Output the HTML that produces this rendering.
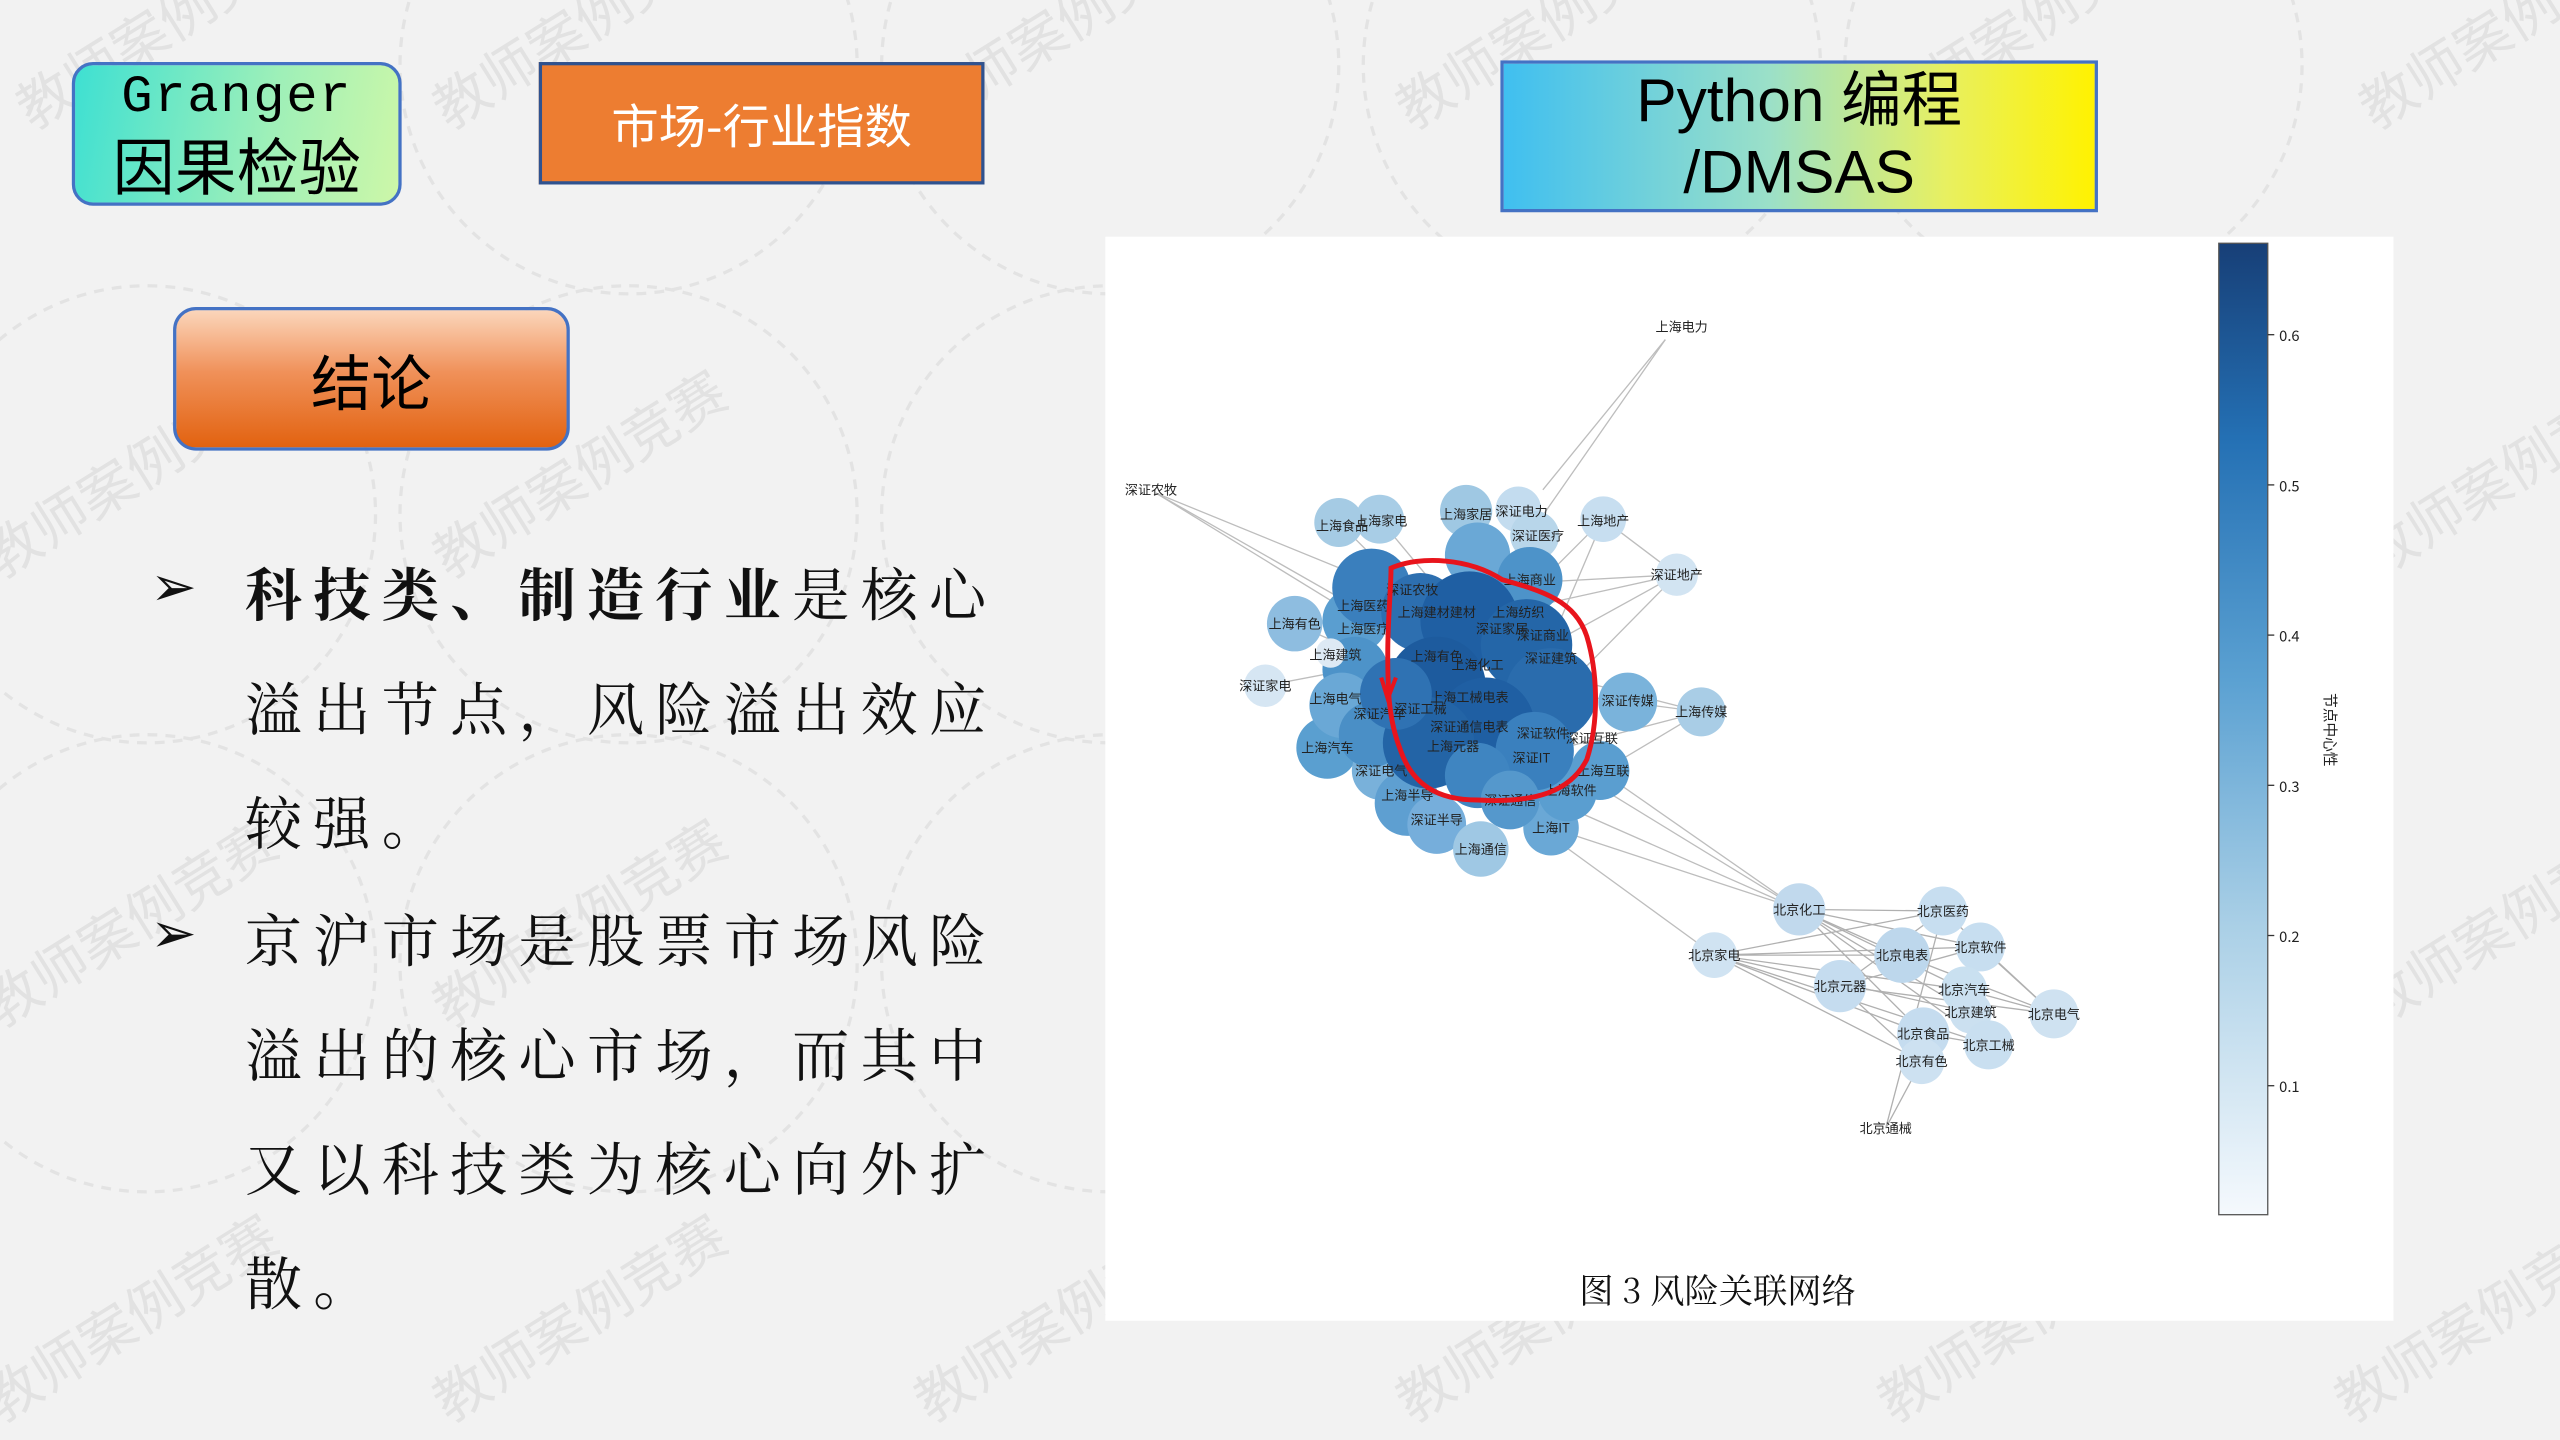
<!DOCTYPE html>
<html><head><meta charset="utf-8"><style>
html,body{margin:0;padding:0;width:2560px;height:1440px;overflow:hidden;}
body{background:#f2f2f2;position:relative;}
#s{position:absolute;left:0;top:0;width:1568px;height:881px;overflow:hidden;transform:scale(1.632653);transform-origin:0 0;background:#f2f2f2;font-family:"Liberation Sans","Noto Sans CJK SC",sans-serif;}
.abs{position:absolute;}
.box{position:absolute;box-sizing:border-box;display:flex;flex-direction:column;align-items:center;justify-content:center;text-align:center;}
.line{position:absolute;left:150px;font-size:35px;letter-spacing:6.9px;white-space:nowrap;color:#111;font-family:"Noto Serif CJK SC","Noto Sans CJK SC",serif;line-height:40px;}
.bul{position:absolute;left:92px;font-size:34px;color:#111;font-family:"DejaVu Sans",sans-serif;}
</style></head><body><div id="s">

<svg class="abs" style="left:0;top:0" width="1568" height="880" viewBox="0 0 1568 880">
<g fill="none" stroke="#e3e3e3" stroke-width="2" stroke-dasharray="6 5">
<circle cx="385" cy="40" r="140"/><circle cx="680" cy="40" r="140"/><circle cx="975" cy="40" r="140"/><circle cx="1270" cy="40" r="140"/>
<circle cx="90" cy="315" r="140"/><circle cx="385" cy="315" r="140"/><circle cx="680" cy="315" r="140"/><circle cx="975" cy="315" r="140"/><circle cx="1270" cy="315" r="140"/>
<circle cx="90" cy="590" r="140"/><circle cx="385" cy="590" r="140"/><circle cx="680" cy="590" r="140"/><circle cx="975" cy="590" r="140"/><circle cx="1270" cy="590" r="140"/>
</g>
<g fill="#e2e2e2" font-size="34" font-family="Noto Sans CJK SC,sans-serif">
<text transform="translate(20,80) rotate(-32)">教师案例竞赛</text>
<text transform="translate(275,80) rotate(-32)">教师案例竞赛</text>
<text transform="translate(570,80) rotate(-32)">教师案例竞赛</text>
<text transform="translate(865,80) rotate(-32)">教师案例竞赛</text>
<text transform="translate(1160,80) rotate(-32)">教师案例竞赛</text>
<text transform="translate(1455,80) rotate(-32)">教师案例竞赛</text>
<text transform="translate(0,355) rotate(-32)">教师案例竞赛</text>
<text transform="translate(275,355) rotate(-32)">教师案例竞赛</text>
<text transform="translate(1455,355) rotate(-32)">教师案例竞赛</text>
<text transform="translate(0,630) rotate(-32)">教师案例竞赛</text>
<text transform="translate(275,630) rotate(-32)">教师案例竞赛</text>
<text transform="translate(1455,630) rotate(-32)">教师案例竞赛</text>
<text transform="translate(0,872) rotate(-32)">教师案例竞赛</text>
<text transform="translate(275,872) rotate(-32)">教师案例竞赛</text>
<text transform="translate(570,872) rotate(-32)">教师案例竞赛</text>
<text transform="translate(865,872) rotate(-32)">教师案例竞赛</text>
<text transform="translate(1160,872) rotate(-32)">教师案例竞赛</text>
<text transform="translate(1440,872) rotate(-32)">教师案例竞赛</text>
</g>
</svg>

<div class="box" style="left:44px;top:38px;width:202px;height:88px;border:2px solid #4472c4;border-radius:13px;background:linear-gradient(100deg,#3ee0d2 0%,#9ff0b8 60%,#cdf7a8 100%);">
<div style="font-family:'Liberation Mono','DejaVu Sans Mono',monospace;font-size:32px;line-height:36px;letter-spacing:1px;">Granger</div>
<div style="font-family:'Noto Sans CJK SC',sans-serif;font-size:38px;line-height:44px;">因果检验</div></div>

<div class="box" style="left:330px;top:38px;width:273px;height:75px;border:2px solid #2f528f;background:#ed7d31;color:#fff;font-size:29px;font-family:'Noto Sans CJK SC',sans-serif;">市场-行业指数</div>

<div class="box" style="left:919px;top:37px;width:366px;height:93px;border:2px solid #4472c4;background:linear-gradient(90deg,#3fbff0 0%,#9be0c8 45%,#e8f060 75%,#fff200 100%);font-size:37px;line-height:44px;font-family:'Liberation Sans','Noto Sans CJK SC',sans-serif;">
<div>Python 编程</div><div>/DMSAS</div></div>

<div class="box" style="left:106px;top:188px;width:243px;height:88px;border:2px solid #4472c4;border-radius:14px;background:linear-gradient(180deg,#fbd6bb 0%,#f0915a 45%,#e2620f 100%);font-size:37px;font-family:'Noto Sans CJK SC',sans-serif;">结论</div>

<div class="bul" style="top:340px">➢</div>
<div class="line" style="top:343px"><b>科技类、制造行业</b>是核心</div>
<div class="line" style="top:413px">溢出节点，风险溢出效应</div>
<div class="line" style="top:483px">较强。</div>
<div class="bul" style="top:552px">➢</div>
<div class="line" style="top:555px">京沪市场是股票市场风险</div>
<div class="line" style="top:625px">溢出的核心市场，而其中</div>
<div class="line" style="top:695px">又以科技类为核心向外扩</div>
<div class="line" style="top:765px">散。</div>

<div class="abs" style="left:677px;top:145px;width:789px;height:664px;background:#fff;"></div>

<svg class="abs" style="left:677px;top:145px" width="789" height="664" viewBox="677 145 789 664" font-family="Noto Sans CJK SC,sans-serif">
<g stroke="#bdbdbd" stroke-width="0.8" fill="none">
<line x1="1020" y1="208" x2="935" y2="330"/><line x1="1020" y1="208" x2="945" y2="300"/>
<line x1="708" y1="302" x2="880" y2="400"/><line x1="708" y1="302" x2="850" y2="360"/><line x1="708" y1="302" x2="900" y2="420"/>
<line x1="1027" y1="352" x2="900" y2="380"/><line x1="1027" y1="352" x2="940" y2="400"/><line x1="1027" y1="352" x2="960" y2="420"/><line x1="1027" y1="352" x2="982" y2="318"/><line x1="1027" y1="352" x2="880" y2="360"/>
<line x1="1042" y1="436" x2="920" y2="420"/><line x1="1042" y1="436" x2="950" y2="460"/><line x1="1042" y1="436" x2="900" y2="400"/><line x1="1042" y1="436" x2="960" y2="485"/>
<line x1="1102" y1="557" x2="960" y2="470"/><line x1="1102" y1="557" x2="950" y2="490"/><line x1="1102" y1="557" x2="980" y2="472"/><line x1="1102" y1="557" x2="950" y2="507"/>
<line x1="1050" y1="585" x2="940" y2="505"/>
<line x1="775" y1="420" x2="880" y2="400"/><line x1="793" y1="382" x2="900" y2="430"/><line x1="820" y1="320" x2="900" y2="400"/><line x1="845" y1="318" x2="930" y2="420"/>
<line x1="982" y1="318" x2="900" y2="400"/><line x1="982" y1="318" x2="930" y2="440"/>
</g>
<g stroke="#b0b0b0" stroke-width="0.8">
<line x1="1102" y1="557" x2="1190" y2="558"/><line x1="1102" y1="557" x2="1165" y2="585"/><line x1="1102" y1="557" x2="1213" y2="580"/><line x1="1102" y1="557" x2="1203" y2="606"/><line x1="1102" y1="557" x2="1178" y2="633"/><line x1="1102" y1="557" x2="1218" y2="640"/><line x1="1102" y1="557" x2="1207" y2="620"/>
<line x1="1050" y1="585" x2="1190" y2="558"/><line x1="1050" y1="585" x2="1165" y2="585"/><line x1="1050" y1="585" x2="1213" y2="580"/><line x1="1050" y1="585" x2="1203" y2="606"/><line x1="1050" y1="585" x2="1178" y2="633"/><line x1="1050" y1="585" x2="1218" y2="640"/><line x1="1050" y1="585" x2="1207" y2="620"/><line x1="1050" y1="585" x2="1177" y2="650"/>
<line x1="1127" y1="604" x2="1190" y2="558"/><line x1="1127" y1="604" x2="1213" y2="580"/><line x1="1127" y1="604" x2="1258" y2="621"/><line x1="1127" y1="604" x2="1177" y2="650"/>
<line x1="1165" y1="585" x2="1258" y2="621"/><line x1="1190" y1="558" x2="1258" y2="621"/><line x1="1213" y1="580" x2="1258" y2="621"/><line x1="1203" y1="606" x2="1258" y2="621"/>
<line x1="1155" y1="691" x2="1177" y2="650"/><line x1="1155" y1="691" x2="1190" y2="558"/><line x1="1178" y1="633" x2="1218" y2="640"/>
</g>
<g>
<circle cx="845" cy="318" r="15" fill="#a8cde6"/><circle cx="820" cy="320" r="15" fill="#a5cbe4"/>
<circle cx="898" cy="313" r="16" fill="#9fc8e3"/><circle cx="930" cy="312" r="14" fill="#c3dcef"/><circle cx="982" cy="318" r="14" fill="#c7def0"/>
<circle cx="1027" cy="352" r="13" fill="#d2e4f2"/><circle cx="940" cy="328" r="15" fill="#b8d6ea"/>
<circle cx="793" cy="382" r="17" fill="#8ebde0"/><circle cx="775" cy="420" r="13" fill="#d6e6f3"/>
<circle cx="813" cy="458" r="19" fill="#5a9fd0"/><circle cx="846" cy="472" r="18" fill="#79b1da"/><circle cx="862" cy="492" r="20" fill="#5e9fd1"/>
<circle cx="880" cy="505" r="18" fill="#76aedb"/><circle cx="907" cy="520" r="17" fill="#9fc8e4"/><circle cx="950" cy="507" r="17" fill="#6aa8d6"/>
<circle cx="960" cy="485" r="18" fill="#5a9ed0"/><circle cx="980" cy="472" r="18" fill="#5a9ed0"/><circle cx="997" cy="430" r="18" fill="#7ab3db"/>
<circle cx="1042" cy="436" r="15" fill="#a9cde6"/>
<circle cx="905" cy="340" r="20" fill="#6aa8d6"/><circle cx="937" cy="355" r="20" fill="#4d93c9"/>
<circle cx="830" cy="380" r="20" fill="#5a9ed0"/><circle cx="830" cy="410" r="20" fill="#4d93c9"/><circle cx="822" cy="432" r="20" fill="#6aa8d6"/><circle cx="840" cy="450" r="20" fill="#4a8fc6"/>
<circle cx="840" cy="360" r="24" fill="#3a7fbd"/><circle cx="870" cy="375" r="24" fill="#2d6fb0"/>
<circle cx="900" cy="380" r="30" fill="#1f5fa3"/><circle cx="935" cy="395" r="28" fill="#2466a8"/><circle cx="950" cy="425" r="28" fill="#2a6cad"/>
<circle cx="880" cy="420" r="30" fill="#1d5b9e"/><circle cx="910" cy="445" r="30" fill="#1f5fa3"/><circle cx="875" cy="455" r="28" fill="#2364a6"/>
<circle cx="940" cy="460" r="24" fill="#3a80be"/><circle cx="905" cy="475" r="20" fill="#3f85c1"/><circle cx="925" cy="490" r="18" fill="#5598cc"/>
<circle cx="855" cy="425" r="22" fill="#2f72b3"/><circle cx="815" cy="400" r="9" fill="#dde9f4"/>
<circle cx="1102" cy="557" r="16" fill="#c1d9ed"/><circle cx="1190" cy="558" r="15" fill="#c7def0"/><circle cx="1050" cy="585" r="14" fill="#d0e3f2"/>
<circle cx="1165" cy="585" r="17" fill="#bdd7ec"/><circle cx="1213" cy="580" r="15" fill="#c7def0"/><circle cx="1127" cy="604" r="16" fill="#c5dcef"/>
<circle cx="1203" cy="606" r="14" fill="#c9e0f0"/><circle cx="1207" cy="620" r="13" fill="#cbe0f0"/><circle cx="1258" cy="621" r="15" fill="#cfe2f1"/>
<circle cx="1178" cy="633" r="16" fill="#c5dcef"/><circle cx="1218" cy="640" r="15" fill="#c9dff0"/><circle cx="1177" cy="650" r="14" fill="#cde1f1"/>
</g>
<g font-size="8" fill="#222" text-anchor="middle">
<text x="1030" y="203">上海电力</text><text x="705" y="303">深证农牧</text>
<text x="822" y="325">上海食品</text><text x="846" y="322">上海家电</text><text x="898" y="318">上海家居</text><text x="932" y="316">深证电力</text>
<text x="982" y="322">上海地产</text><text x="942" y="331">深证医疗</text><text x="1027" y="355">深证地产</text><text x="937" y="358">上海商业</text>
<text x="793" y="385">上海有色</text><text x="818" y="404">上海建筑</text><text x="775" y="423">深证家电</text><text x="818" y="431">上海电气</text>
<text x="813" y="461">上海汽车</text><text x="846" y="475">深证电气</text><text x="862" y="490">上海半导</text><text x="880" y="505">深证半导</text>
<text x="907" y="523">上海通信</text><text x="950" y="510">上海IT</text><text x="962" y="487">上海软件</text><text x="982" y="475">上海互联</text>
<text x="997" y="432">深证传媒</text><text x="1042" y="439">上海传媒</text><text x="925" y="493">深证通信</text>
<text x="865" y="364">深证农牧</text><text x="835" y="374">上海医药</text><text x="880" y="378">上海建材建材</text><text x="930" y="378">上海纺织</text>
<text x="920" y="388">深证家居</text><text x="945" y="392">深证商业</text><text x="905" y="410">上海化工</text><text x="950" y="406">深证建筑</text>
<text x="835" y="388">上海医疗</text><text x="880" y="405">上海有色</text><text x="870" y="437">深证工械</text><text x="900" y="430">上海工械电表</text>
<text x="945" y="452">深证软件</text><text x="975" y="455">深证互联</text><text x="890" y="460">上海元器</text><text x="938" y="467">深证IT</text>
<text x="900" y="448">深证通信电表</text><text x="845" y="440">深证汽车</text>
<text x="1102" y="560">北京化工</text><text x="1190" y="561">北京医药</text><text x="1050" y="588">北京家电</text><text x="1165" y="588">北京电表</text>
<text x="1213" y="583">北京软件</text><text x="1127" y="607">北京元器</text><text x="1203" y="609">北京汽车</text><text x="1207" y="623">北京建筑</text>
<text x="1258" y="624">北京电气</text><text x="1178" y="636">北京食品</text><text x="1218" y="643">北京工械</text><text x="1177" y="653">北京有色</text>
<text x="1155" y="694">北京通械</text>
</g>
<path d="M852,348 C870,340 900,342 920,355 C945,362 965,368 972,390 C978,410 980,440 972,465 C962,485 940,492 905,490 C880,490 865,480 858,460 C850,440 850,420 850,400 C850,380 852,360 852,348 Z" fill="none" stroke="#e8141c" stroke-width="3"/>
<path d="M846,415 L850,428 L855,415" fill="none" stroke="#e8141c" stroke-width="2.5"/>
<defs><linearGradient id="cb" x1="0" y1="0" x2="0" y2="1"><stop offset="0" stop-color="#173f77"/><stop offset="0.2" stop-color="#2470b4"/><stop offset="0.45" stop-color="#5ba1d2"/><stop offset="0.7" stop-color="#a9cfe6"/><stop offset="1" stop-color="#f5f9fd"/></linearGradient></defs>
<rect x="1359" y="149" width="30" height="595" fill="url(#cb)" stroke="#555" stroke-width="0.8"/>
<g font-size="9" fill="#222"><g stroke="#333" stroke-width="0.8">
<line x1="1389" y1="205" x2="1393" y2="205"/><line x1="1389" y1="297" x2="1393" y2="297"/><line x1="1389" y1="389" x2="1393" y2="389"/><line x1="1389" y1="481" x2="1393" y2="481"/><line x1="1389" y1="573" x2="1393" y2="573"/><line x1="1389" y1="665" x2="1393" y2="665"/></g>
<text x="1396" y="209">0.6</text><text x="1396" y="301">0.5</text><text x="1396" y="393">0.4</text><text x="1396" y="485">0.3</text><text x="1396" y="577">0.2</text><text x="1396" y="669">0.1</text>
<text transform="translate(1424,447) rotate(90)" text-anchor="middle" font-size="9">节点中心性</text></g>
<text x="1052" y="798" text-anchor="middle" font-size="21" fill="#111" font-family="Noto Serif CJK SC,serif">图 3  风险关联网络</text>
</svg>
</div></body></html>
